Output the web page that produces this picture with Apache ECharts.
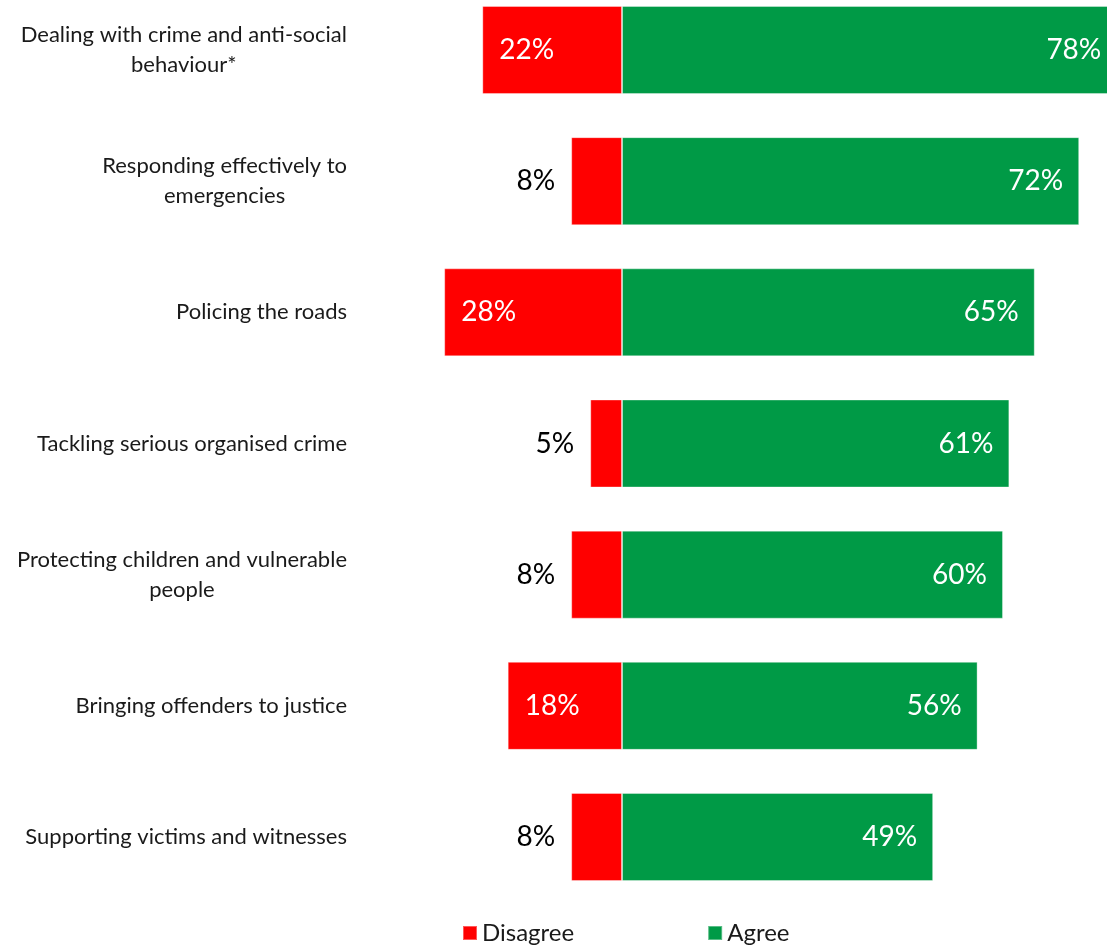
<!DOCTYPE html>
<html><head><meta charset="utf-8">
<script src="https://cdn.jsdelivr.net/npm/echarts@6/dist/echarts.min.js"></script>
<style>html,body{margin:0;padding:0;background:#fff}#c{width:1107px;height:945px}</style>
</head><body><div id="c"></div>
<script>
const categories = [
  "Dealing with crime and anti-social\nbehaviour*",
  "Responding effectively to\nemergencies",
  "Policing the roads",
  "Tackling serious organised crime",
  "Protecting children and vulnerable\npeople",
  "Bringing offenders to justice",
  "Supporting victims and witnesses"
];
const disagree = [22, 8, 28, 5, 8, 18, 8];
const agree = [78, 72, 65, 61, 60, 56, 49];
const seriesNames = ["Disagree", "Agree"];

const FONT = 'Lato';
const chart = echarts.init(document.getElementById('c'), null, {renderer: 'canvas'});

const disagreeData = disagree.map(v => {
  const inside = v >= 15;
  return {
    value: -v,
    label: inside
      ? {position: 'insideLeft', distance: 17, color: '#ffffff'}
      : {position: 'left', distance: 16, color: '#000000'}
  };
});

chart.setOption({
  animation: false,
  textStyle: {fontFamily: FONT},
  grid: {left: 431.5, width: 698.5, top: -15.6, height: 918.2, containLabel: false, outerBoundsMode: 'none'},
  xAxis: {
    type: 'value', min: -30, max: 80,
    show: false, splitLine: {show: false}
  },
  yAxis: {
    type: 'category', inverse: true, data: categories,
    axisLine: {show: false, onZero: false}, axisTick: {show: false},
    axisLabel: {
      margin: 84.5, align: 'right',
      formatter: v => v.split('\n').map(s => '{a|' + s + '}').join('\n'),
      rich: {a: {align: 'center', fontSize: 22, lineHeight: 30, color: '#1a1a1a', fontFamily: FONT}}
    }
  },
  legend: {
    data: seriesNames, left: 462, top: 921, padding: 0,
    itemWidth: 14, itemHeight: 14, itemGap: 133, icon: 'rect',
    textStyle: {fontSize: 24, color: '#1a1a1a', fontFamily: FONT}
  },
  series: [
    {
      name: seriesNames[0], type: 'bar', stack: 'total', barWidth: 88,
      itemStyle: {color: '#ff0000', borderColor: 'rgba(255,255,255,0.35)', borderWidth: 1},
      label: {show: true, fontSize: 28, fontFamily: FONT, formatter: p => Math.abs(p.value) + '%'},
      data: disagreeData
    },
    {
      name: seriesNames[1], type: 'bar', stack: 'total', barWidth: 88,
      itemStyle: {color: '#009a46', borderColor: 'rgba(255,255,255,0.35)', borderWidth: 1},
      label: {show: true, position: 'insideRight', distance: 16, color: '#ffffff', fontSize: 28, fontFamily: FONT, formatter: p => p.value + '%'},
      data: agree
    }
  ]
});
</script></body></html>
